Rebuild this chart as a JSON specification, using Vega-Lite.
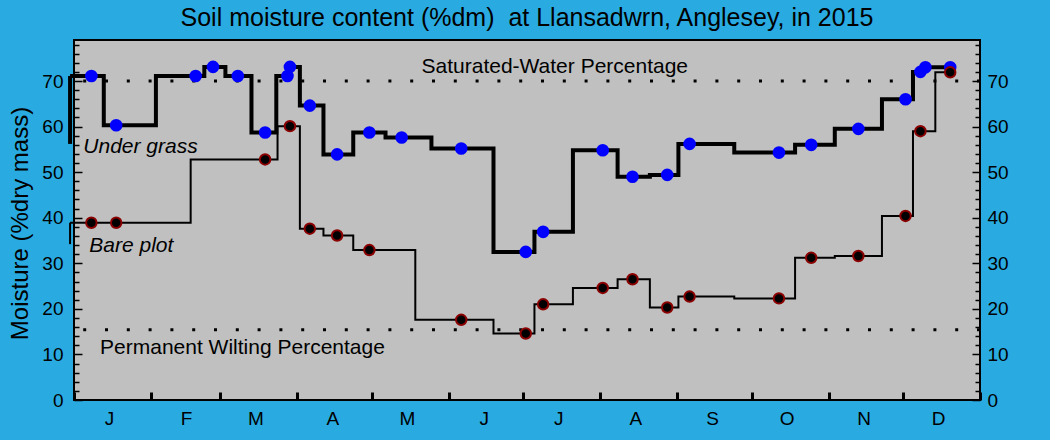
{
  "$schema": "https://vega.github.io/schema/vega-lite/v6.json",
  "width": 906,
  "height": 360,
  "autosize": "none",
  "padding": {"left": 74, "top": 40, "right": 70, "bottom": 40},
  "background": "#29abe2",
  "config": {
    "view": {"fill": "#c0c0c0", "stroke": "black", "strokeWidth": 2},
    "font": "Liberation Sans",
    "axis": {"domain": false, "grid": false, "labelColor": "black", "tickColor": "black", "labelFont": "Liberation Sans", "titleFont": "Liberation Sans", "titleFontWeight": "normal", "titleColor": "black", "labelOverlap": false, "labelFlush": false, "labelBound": false}
  },
  "title": {"text": "Soil moisture content (%dm)\u00a0 at Llansadwrn, Anglesey, in 2015", "fontSize": 25, "fontWeight": "normal", "font": "Liberation Sans", "color": "black", "anchor": "middle", "offset": 5},
  "datasets": {
    "samples": [
      {"series": "Under grass", "date": "2015-01-08", "moisture": 71.1},
      {"series": "Under grass", "date": "2015-01-18", "moisture": 60.3},
      {"series": "Under grass", "date": "2015-02-19", "moisture": 71.1},
      {"series": "Under grass", "date": "2015-02-26", "moisture": 73.1},
      {"series": "Under grass", "date": "2015-03-08", "moisture": 71.1},
      {"series": "Under grass", "date": "2015-03-19", "moisture": 58.7},
      {"series": "Under grass", "date": "2015-03-28", "moisture": 71.1},
      {"series": "Under grass", "date": "2015-03-29", "moisture": 73.1},
      {"series": "Under grass", "date": "2015-04-06", "moisture": 64.6},
      {"series": "Under grass", "date": "2015-04-17", "moisture": 53.9},
      {"series": "Under grass", "date": "2015-04-30", "moisture": 58.7},
      {"series": "Under grass", "date": "2015-05-13", "moisture": 57.6},
      {"series": "Under grass", "date": "2015-06-06", "moisture": 55.2},
      {"series": "Under grass", "date": "2015-07-02", "moisture": 32.5},
      {"series": "Under grass", "date": "2015-07-09", "moisture": 36.9},
      {"series": "Under grass", "date": "2015-08-02", "moisture": 54.8},
      {"series": "Under grass", "date": "2015-08-14", "moisture": 49.0},
      {"series": "Under grass", "date": "2015-08-28", "moisture": 49.4},
      {"series": "Under grass", "date": "2015-09-06", "moisture": 56.2},
      {"series": "Under grass", "date": "2015-10-12", "moisture": 54.3},
      {"series": "Under grass", "date": "2015-10-25", "moisture": 56.0},
      {"series": "Under grass", "date": "2015-11-13", "moisture": 59.5},
      {"series": "Under grass", "date": "2015-12-02", "moisture": 66.0},
      {"series": "Under grass", "date": "2015-12-08", "moisture": 72.0},
      {"series": "Under grass", "date": "2015-12-10", "moisture": 73.0},
      {"series": "Under grass", "date": "2015-12-20", "moisture": 73.0},
      {"series": "Bare plot", "date": "2015-01-08", "moisture": 38.9},
      {"series": "Bare plot", "date": "2015-01-18", "moisture": 38.9},
      {"series": "Bare plot", "date": "2015-03-19", "moisture": 52.8},
      {"series": "Bare plot", "date": "2015-03-29", "moisture": 60.1},
      {"series": "Bare plot", "date": "2015-04-06", "moisture": 37.6},
      {"series": "Bare plot", "date": "2015-04-17", "moisture": 36.1},
      {"series": "Bare plot", "date": "2015-04-30", "moisture": 32.9},
      {"series": "Bare plot", "date": "2015-06-06", "moisture": 17.6},
      {"series": "Bare plot", "date": "2015-07-02", "moisture": 14.6},
      {"series": "Bare plot", "date": "2015-07-09", "moisture": 21.0},
      {"series": "Bare plot", "date": "2015-08-02", "moisture": 24.6},
      {"series": "Bare plot", "date": "2015-08-14", "moisture": 26.5},
      {"series": "Bare plot", "date": "2015-08-28", "moisture": 20.3},
      {"series": "Bare plot", "date": "2015-09-06", "moisture": 22.7},
      {"series": "Bare plot", "date": "2015-10-12", "moisture": 22.3},
      {"series": "Bare plot", "date": "2015-10-25", "moisture": 31.2},
      {"series": "Bare plot", "date": "2015-11-13", "moisture": 31.6},
      {"series": "Bare plot", "date": "2015-12-02", "moisture": 40.4},
      {"series": "Bare plot", "date": "2015-12-08", "moisture": 59.0},
      {"series": "Bare plot", "date": "2015-12-20", "moisture": 71.9}
    ],
    "lead": [
      {"series": "Under grass", "start": "2014-12-30T10:00:00Z", "end": "2015-01-08", "low": 56.2, "high": 71.1},
      {"series": "Bare plot", "start": "2014-12-30T10:00:00Z", "end": "2015-01-08", "low": 34.2, "high": 38.9}
    ],
    "limits": [
      {"name": "Saturated-Water Percentage", "value": 70},
      {"name": "Permanent Wilting Percentage", "value": 15.4}
    ]
  },
  "layer": [
    {
      "data": {"name": "limits"},
      "mark": {"type": "rule", "strokeOpacity": 0},
      "encoding": {
        "y": {"field": "value", "type": "quantitative", "scale": {"domain": [0, 79], "nice": false, "zero": false},
          "axis": {"orient": "left", "title": "Moisture (%dry mass)", "values": [0,2,4,6,8,10,12,14,16,18,20,22,24,26,28,30,32,34,36,38,40,42,44,46,48,50,52,54,56,58,60,62,64,66,68,70,72,74,76,78],
            "labelExpr": "datum.value % 10 === 0 && datum.value <= 70 ? datum.label : ''",
            "tickSize": {"condition": {"test": "datum.value % 10 === 0", "value": -8}, "value": -5},
            "tickWidth": 1.5, "labelFontSize": 19, "labelPadding": 19,
            "titleFontSize": 24, "titleX": -47, "titleY": 183, "titleBaseline": "alphabetic"}}
      }
    },
    {
      "data": {"name": "limits"},
      "mark": {"type": "rule", "strokeDash": [3, 18.8], "strokeWidth": 3, "color": "black"},
      "encoding": {
        "y": {"field": "value", "type": "quantitative", "scale": {"domain": [0, 79], "nice": false, "zero": false},
          "axis": {"orient": "right", "title": null, "values": [0,2,4,6,8,10,12,14,16,18,20,22,24,26,28,30,32,34,36,38,40,42,44,46,48,50,52,54,56,58,60,62,64,66,68,70,72,74,76,78],
            "labelExpr": "datum.value % 10 === 0 && datum.value <= 70 ? datum.label : ''",
            "tickSize": {"condition": {"test": "datum.value % 10 === 0", "value": -8}, "value": -5},
            "tickWidth": 1.5, "labelFontSize": 19, "labelPadding": 15}}
      }
    },
    {
      "layer": [
        {
          "data": {"name": "lead"},
          "mark": {"type": "rule", "color": "black"},
          "encoding": {
            "x": {"field": "start", "type": "temporal",
              "scale": {"type": "utc", "domain": [{"year": 2015, "month": 1, "date": 1, "utc": true}, {"year": 2016, "month": 1, "date": 1, "utc": true}], "nice": false},
              "axis": {"orient": "bottom", "title": null,
                "values": [
                  {"year": 2015, "month": 1, "date": 1, "utc": true},
                  {"year": 2015, "month": 2, "date": 1, "utc": true},
                  {"year": 2015, "month": 3, "date": 1, "utc": true},
                  {"year": 2015, "month": 4, "date": 1, "utc": true},
                  {"year": 2015, "month": 5, "date": 1, "utc": true},
                  {"year": 2015, "month": 6, "date": 1, "utc": true},
                  {"year": 2015, "month": 7, "date": 1, "utc": true},
                  {"year": 2015, "month": 8, "date": 1, "utc": true},
                  {"year": 2015, "month": 9, "date": 1, "utc": true},
                  {"year": 2015, "month": 10, "date": 1, "utc": true},
                  {"year": 2015, "month": 11, "date": 1, "utc": true},
                  {"year": 2015, "month": 12, "date": 1, "utc": true},
                  {"year": 2016, "month": 1, "date": 1, "utc": true}
                ],
                "labelExpr": "utcyear(datum.value) > 2015 ? '' : substring(utcFormat(datum.value, '%b'), 0, 1)",
                "labelOffset": 35, "labelAlign": "center", "labelFontSize": 19, "labelPadding": 17,
                "tickSize": -8, "tickWidth": 3}},
            "y": {"field": "low", "type": "quantitative", "scale": {"domain": [0, 79], "nice": false, "zero": false}, "axis": null},
            "y2": {"field": "high"},
            "strokeWidth": {"field": "series", "type": "nominal", "scale": {"domain": ["Under grass", "Bare plot"], "range": [4, 2]}, "legend": null}
          }
        },
        {
          "data": {"name": "lead"},
          "mark": {"type": "rule", "color": "black"},
          "encoding": {
            "x": {"field": "start", "type": "temporal"},
            "x2": {"field": "end"},
            "y": {"field": "high", "type": "quantitative", "axis": null},
            "strokeWidth": {"field": "series", "type": "nominal", "scale": {"domain": ["Under grass", "Bare plot"], "range": [4, 2]}, "legend": null}
          }
        },
        {
          "data": {"name": "samples"},
          "transform": [{"filter": "datum.series === 'Under grass'"}],
          "mark": {"type": "line", "interpolate": "step", "color": "black", "strokeWidth": 4},
          "encoding": {
            "x": {"field": "date", "type": "temporal"},
            "y": {"field": "moisture", "type": "quantitative", "axis": null}
          }
        },
        {
          "data": {"name": "samples"},
          "transform": [{"filter": "datum.series === 'Bare plot'"}],
          "mark": {"type": "line", "interpolate": "step", "color": "black", "strokeWidth": 2},
          "encoding": {
            "x": {"field": "date", "type": "temporal"},
            "y": {"field": "moisture", "type": "quantitative", "axis": null}
          }
        },
        {
          "data": {"name": "samples"},
          "transform": [{"filter": "datum.series === 'Under grass'"}],
          "mark": {"type": "circle", "color": "#0000ff", "opacity": 1, "size": 160},
          "encoding": {
            "x": {"field": "date", "type": "temporal"},
            "y": {"field": "moisture", "type": "quantitative", "axis": null}
          }
        },
        {
          "data": {"name": "samples"},
          "transform": [{"filter": "datum.series === 'Bare plot'"}],
          "mark": {"type": "point", "shape": "circle", "filled": true, "fill": "black", "stroke": "#8b0000", "strokeWidth": 2, "opacity": 1, "size": 110},
          "encoding": {
            "x": {"field": "date", "type": "temporal"},
            "y": {"field": "moisture", "type": "quantitative", "axis": null}
          }
        },
        {
          "data": {"values": [{"label": "Saturated-Water Percentage"}]},
          "mark": {"type": "text", "align": "left", "baseline": "alphabetic", "fontSize": 21, "font": "Liberation Sans", "color": "black"},
          "encoding": {
            "text": {"field": "label"},
            "x": {"datum": {"year": 2015, "month": 5, "date": 21, "utc": true}, "type": "temporal"},
            "y": {"datum": 71.7, "type": "quantitative", "axis": null}
          }
        },
        {
          "data": {"values": [{"label": "Permanent Wilting Percentage"}]},
          "mark": {"type": "text", "align": "left", "baseline": "alphabetic", "fontSize": 21, "font": "Liberation Sans", "color": "black"},
          "encoding": {
            "text": {"field": "label"},
            "x": {"datum": {"year": 2015, "month": 1, "date": 11, "hours": 12, "utc": true}, "type": "temporal"},
            "y": {"datum": 10.0, "type": "quantitative", "axis": null}
          }
        },
        {
          "data": {"values": [{"label": "Under grass"}]},
          "mark": {"type": "text", "align": "left", "baseline": "alphabetic", "fontSize": 21, "fontStyle": "italic", "font": "Liberation Sans", "color": "black"},
          "encoding": {
            "text": {"field": "label"},
            "x": {"datum": {"year": 2015, "month": 1, "date": 4, "hours": 18, "utc": true}, "type": "temporal"},
            "y": {"datum": 54.1, "type": "quantitative", "axis": null}
          }
        },
        {
          "data": {"values": [{"label": "Bare plot"}]},
          "mark": {"type": "text", "align": "left", "baseline": "alphabetic", "fontSize": 21, "fontStyle": "italic", "font": "Liberation Sans", "color": "black"},
          "encoding": {
            "text": {"field": "label"},
            "x": {"datum": {"year": 2015, "month": 1, "date": 7, "hours": 4, "utc": true}, "type": "temporal"},
            "y": {"datum": 32.5, "type": "quantitative", "axis": null}
          }
        }
      ]
    }
  ],
  "resolve": {"scale": {"y": "independent"}}
}
